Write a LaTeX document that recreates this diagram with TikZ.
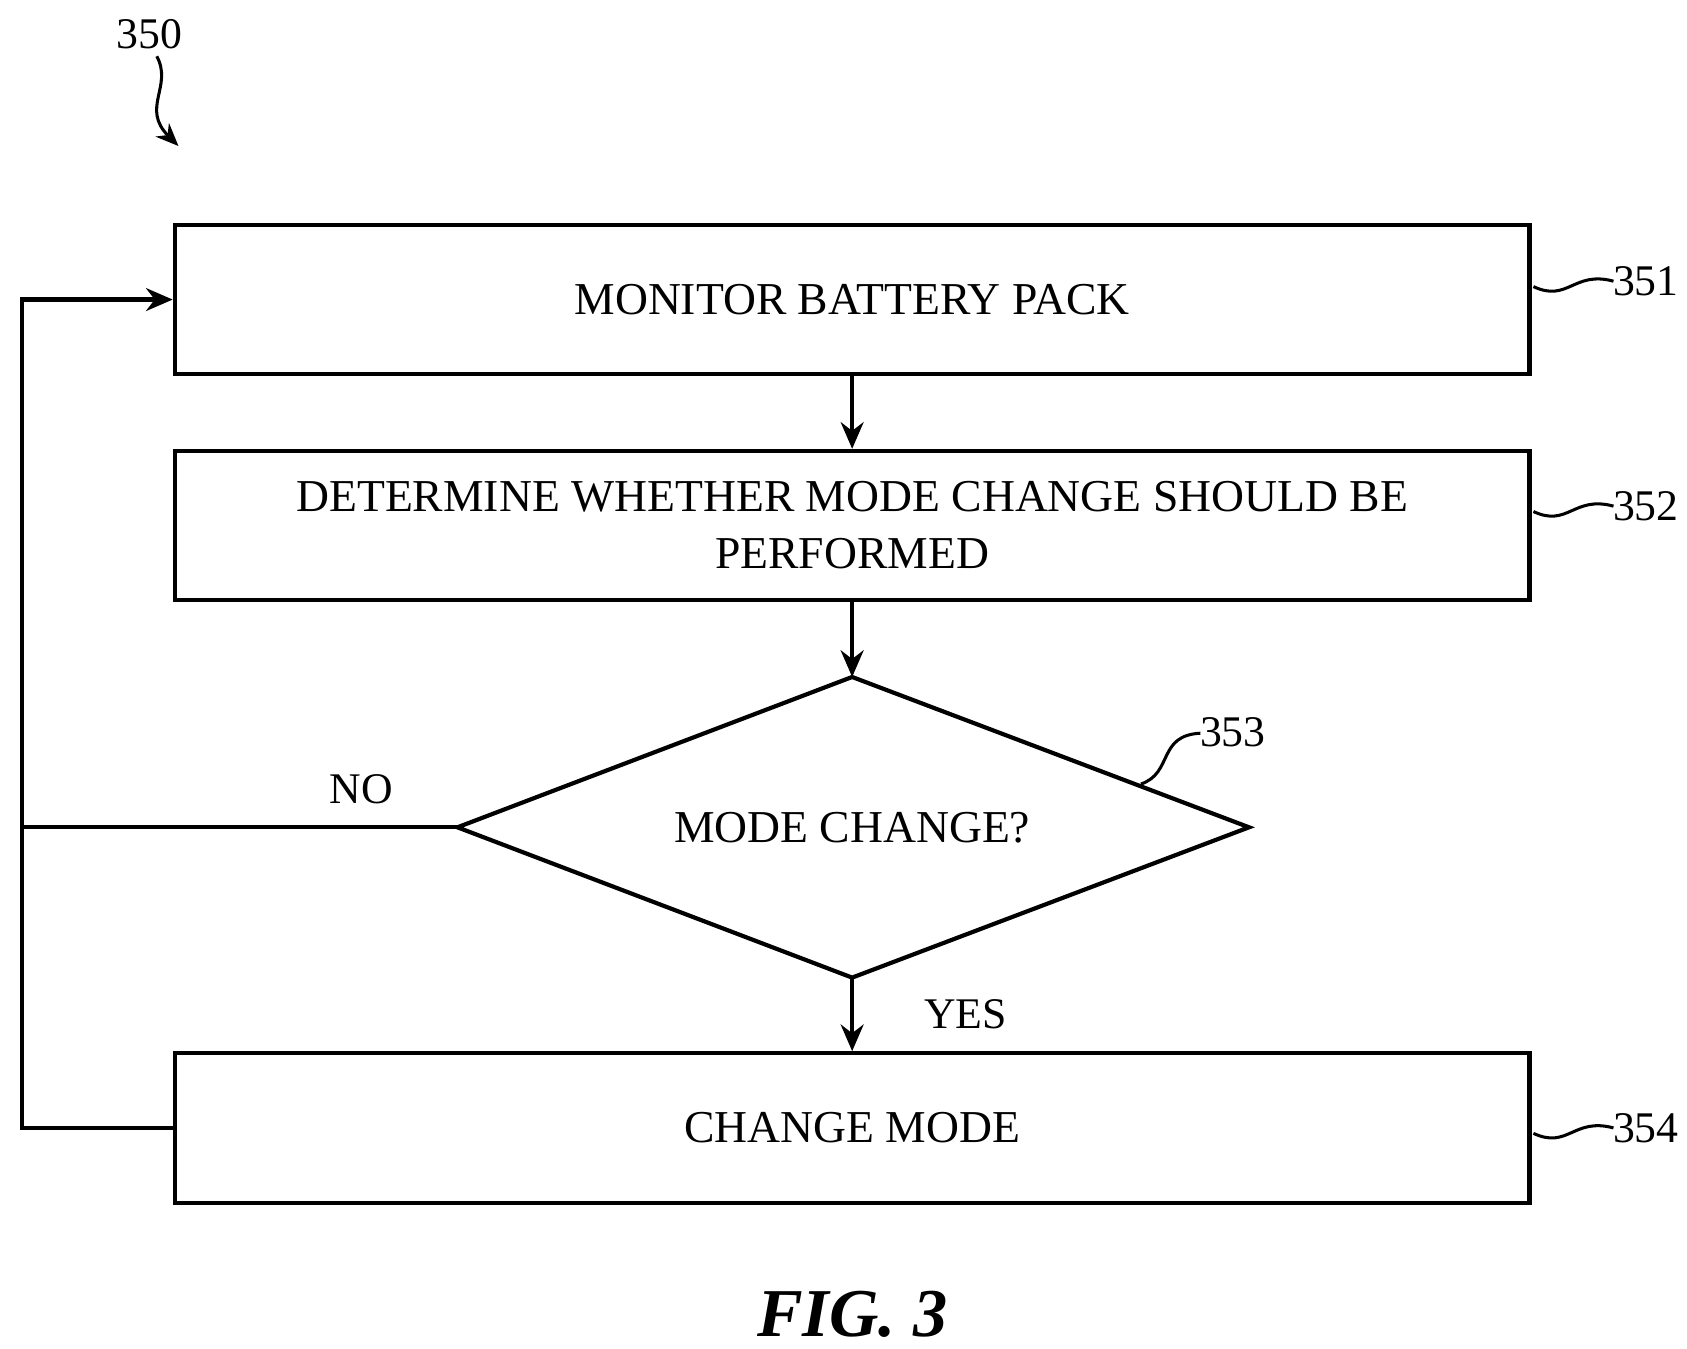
\documentclass[tikz,border=0pt]{standalone}
\usepackage{fontspec}
\setmainfont{Liberation Serif}
\usetikzlibrary{arrows.meta}
\begin{document}
\begin{tikzpicture}[x=0.01cm,y=-0.01cm,line width=1.1pt,
  box/.style={draw,minimum width=12.52cm,minimum height=1.38cm,align=center,font=\fontsize{12}{15}\selectfont},
  lab/.style={font=\fontsize{11.5}{14}\selectfont},
  arr/.style={-{Stealth[length=7pt,width=6pt]}},
  sq/.style={line width=0.8pt}]
\useasboundingbox (0,0) rectangle (1560,1247);
\node[box] (b1) at (788,277) {MONITOR BATTERY PACK};
\node[box] (b2) at (788,486) {DETERMINE WHETHER MODE CHANGE SHOULD BE\\PERFORMED};
\node[box] (b4) at (788,1043) {CHANGE MODE};
\coordinate (dt) at (788,626); \coordinate (dl) at (423,765);
\coordinate (dr) at (1155,765); \coordinate (db) at (788,904);
\draw (dt) -- (dr) -- (db) -- (dl) -- cycle;
\node[font=\fontsize{12}{15}\selectfont] (d) at (788,765) {MODE CHANGE?};
\draw[arr] (b1) -- (b2);
\draw[arr] (b2) -- (dt);
\draw[arr] (db) -- (b4);
\coordinate (c1) at (20,1043); \coordinate (c2) at (20,277);
\draw[arr] (b4.west) -- (c1) -- (c2) -- (b1.west);
\coordinate (c3) at (20,765);
\draw (dl) -- (c3);
\node[lab] (no) at (334,730) {NO};
\node[lab] (yes) at (893,938) {YES};
\node[lab] (n351) at (1522,260) {351};
\node[lab] (n352) at (1522,468) {352};
\node[lab] (n354) at (1522,1043) {354};
\node[lab] (n353) at (1140,677) {353};
\node[lab] (n350) at (138,32) {350};
\draw[sq] (1418,265) .. controls (1450,280) and (1455,250) .. (1492,260);
\draw[sq] (1418,473) .. controls (1450,488) and (1455,458) .. (1492,468);
\draw[sq] (1418,1048) .. controls (1450,1063) and (1455,1033) .. (1492,1043);
\draw[sq] (1055,725) .. controls (1085,715) and (1070,680) .. (1110,678);
\draw[sq,-{Stealth[length=6pt,width=5pt]}] (145,52) .. controls (160,80) and (130,100) .. (165,135);
\node[font=\fontsize{18}{22}\selectfont\bfseries\itshape] (fig) at (788,1215) {FIG. 3};
\end{tikzpicture}
\end{document}
